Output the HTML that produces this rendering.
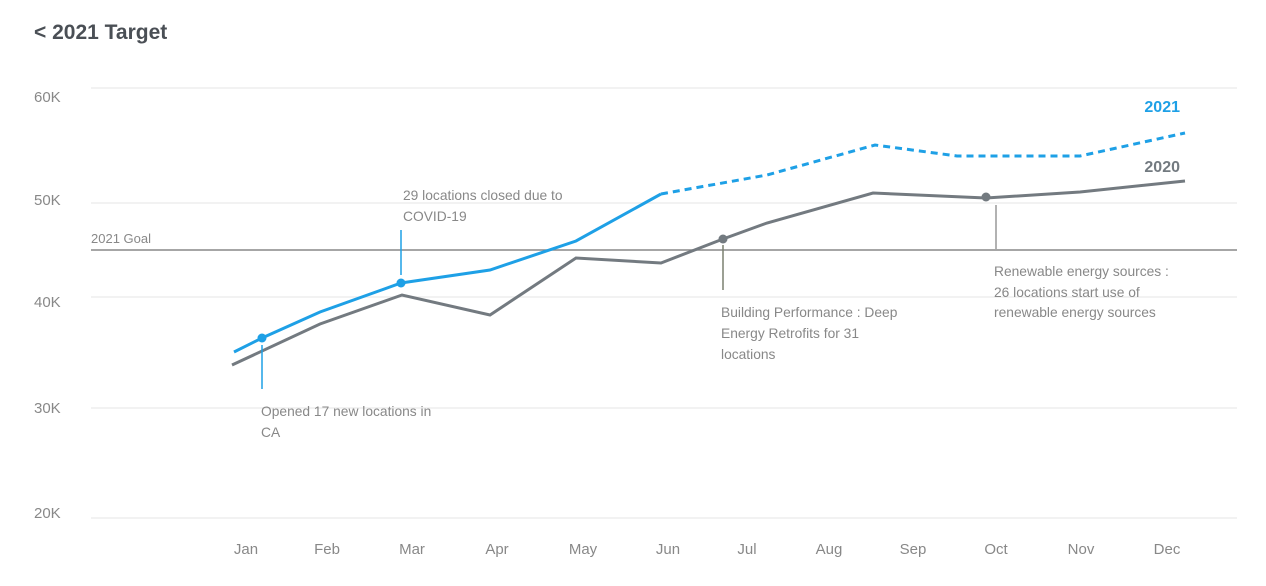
<!DOCTYPE html>
<html><head><style>
body{margin:0;background:#fff;}
svg{display:block;font-family:"Liberation Sans",sans-serif;}
</style></head><body>
<svg width="1266" height="586" viewBox="0 0 1266 586">
<text x="34" y="39" font-size="21" font-weight="bold" fill="#4a4f55">&lt;  2021 Target</text>
<g stroke="#eeeeee" stroke-width="1.5">
<line x1="91" y1="88" x2="1237" y2="88"/>
<line x1="91" y1="203" x2="1237" y2="203"/>
<line x1="91" y1="297" x2="1237" y2="297"/>
<line x1="91" y1="408" x2="1237" y2="408"/>
<line x1="91" y1="518" x2="1237" y2="518"/>
</g>
<g font-size="15" fill="#888">
<text x="34" y="102">60K</text>
<text x="34" y="205">50K</text>
<text x="34" y="307">40K</text>
<text x="34" y="413">30K</text>
<text x="34" y="518">20K</text>
</g>
<line x1="91" y1="250" x2="1237" y2="250" stroke="#888" stroke-width="1.5"/>
<text x="91" y="243" font-size="13" fill="#888">2021 Goal</text>
<g font-size="15" fill="#888" text-anchor="middle">
<text x="246" y="554">Jan</text><text x="327" y="554">Feb</text><text x="412" y="554">Mar</text>
<text x="497" y="554">Apr</text><text x="583" y="554">May</text><text x="668" y="554">Jun</text>
<text x="747" y="554">Jul</text><text x="829" y="554">Aug</text><text x="913" y="554">Sep</text>
<text x="996" y="554">Oct</text><text x="1081" y="554">Nov</text><text x="1167" y="554">Dec</text>
</g>
<polyline fill="none" stroke="#737a80" stroke-width="3" points="232,365 320,324 402,295 490,315 576,258 661,263 723,239 767,223 873,193 986,198 1080,192 1185,181"/>
<polyline fill="none" stroke="#1ea0e6" stroke-width="3" points="234,352 262,338 320,312 401,283 490,270 576,241 661,194"/>
<polyline fill="none" stroke="#1ea0e6" stroke-width="3" stroke-dasharray="7,5" points="661,194 767,175 875,145 957,156 1080,156 1185,133"/>
<g stroke-width="1.5">
<line x1="262" y1="345" x2="262" y2="389" stroke="#1ea0e6"/>
<line x1="401" y1="230" x2="401" y2="275" stroke="#1ea0e6"/>
<line x1="723" y1="245" x2="723" y2="290" stroke="#7a8070"/>
<line x1="996" y1="205" x2="996" y2="249" stroke="#999"/>
</g>
<circle cx="262" cy="338" r="4.5" fill="#1ea0e6"/>
<circle cx="401" cy="283" r="4.5" fill="#1ea0e6"/>
<circle cx="723" cy="239" r="4.5" fill="#737a80"/>
<circle cx="986" cy="197" r="4.5" fill="#737a80"/>
<text x="1180" y="112" font-size="16" font-weight="bold" fill="#1ea0e6" text-anchor="end">2021</text>
<text x="1180" y="172" font-size="16" font-weight="bold" fill="#737a80" text-anchor="end">2020</text>
<g font-size="13.8" fill="#888">
<text x="261" y="416">Opened 17 new locations in</text>
<text x="261" y="437">CA</text>
<text x="403" y="200">29 locations closed due to</text>
<text x="403" y="221">COVID-19</text>
<text x="721" y="317">Building Performance : Deep</text>
<text x="721" y="338">Energy Retrofits for 31</text>
<text x="721" y="359">locations</text>
<text x="994" y="276">Renewable energy sources :</text>
<text x="994" y="297">26 locations start use of</text>
<text x="994" y="317">renewable energy sources</text>
</g>
</svg>
</body></html>
